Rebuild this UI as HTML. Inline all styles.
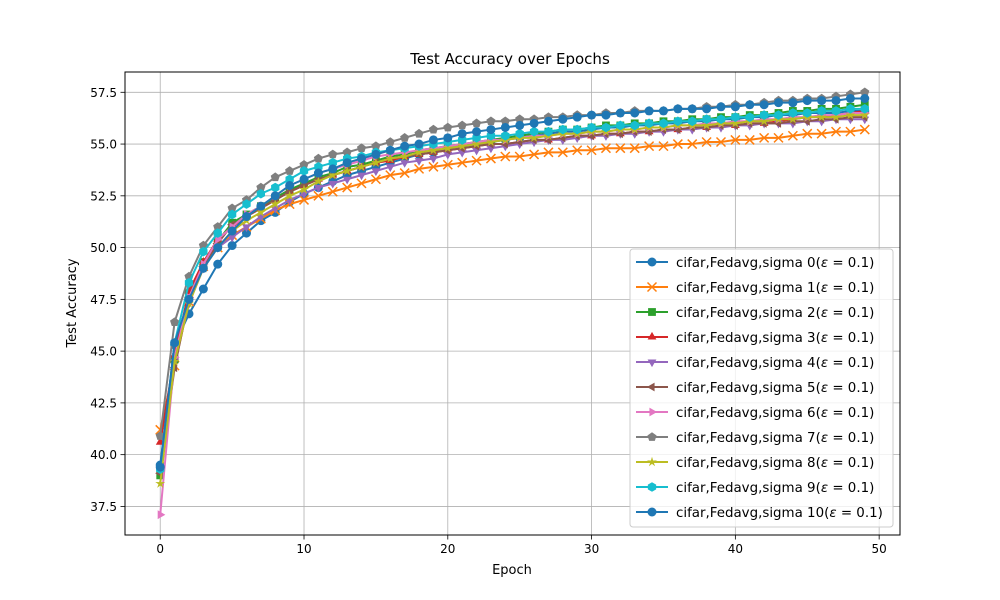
<!DOCTYPE html>
<html><head><meta charset="utf-8"><style>
html,body{margin:0;padding:0;background:#fff;}
svg{display:block;font-family:"DejaVu Sans","Liberation Sans",sans-serif;}
</style></head><body>
<svg id="chart" width="1000" height="600" xmlns="http://www.w3.org/2000/svg">
<rect width="1000" height="600" fill="#fff"/>
<g id="grid"></g>
<g id="series"></g>
<rect x="125" y="72" width="775" height="463" fill="none" stroke="#000" stroke-width="1"/>
<g id="ticks"></g>
<text x="510" y="64" text-anchor="middle" font-size="15">Test Accuracy over Epochs</text>
<text x="512" y="574" text-anchor="middle" font-size="13">Epoch</text>
<text transform="translate(76,303) rotate(-90)" text-anchor="middle" font-size="13">Test Accuracy</text>
<g id="legend"></g>
</svg>
<script>
const epochs = Array.from({length:50},(_,i)=>i);
const xTicks = [0,10,20,30,40,50];
const yTicks = [37.5,40.0,42.5,45.0,47.5,50.0,52.5,55.0,57.5];
const seriesNames = ["sigma 0","sigma 1","sigma 2","sigma 3","sigma 4","sigma 5","sigma 6","sigma 7","sigma 8","sigma 9","sigma 10"];
const s0 = [39.5,45.3,46.8,48.0,49.2,50.1,50.7,51.3,51.7,52.2,52.6,52.9,53.2,53.5,53.7,53.9,54.1,54.3,54.5,54.6,54.8,54.9,55.0,55.1,55.2,55.3,55.4,55.5,55.6,55.6,55.7,55.8,55.8,55.9,55.9,56.0,56.0,56.1,56.1,56.2,56.2,56.3,56.3,56.4,56.4,56.5,56.5,56.5,56.6,56.6];
const s1 = [41.2,44.3,47.4,49.1,50.0,50.6,51.0,51.4,51.8,52.1,52.3,52.5,52.7,52.9,53.1,53.3,53.5,53.6,53.8,53.9,54.0,54.1,54.2,54.3,54.4,54.4,54.5,54.6,54.6,54.7,54.7,54.8,54.8,54.8,54.9,54.9,55.0,55.0,55.1,55.1,55.2,55.2,55.3,55.3,55.4,55.5,55.5,55.6,55.6,55.7];
const s2 = [39.0,44.6,47.8,49.3,50.3,51.2,51.6,52.0,52.4,52.8,53.1,53.4,53.6,53.9,54.0,54.2,54.4,54.5,54.7,54.8,54.9,55.0,55.1,55.2,55.3,55.4,55.5,55.6,55.7,55.7,55.8,55.9,55.9,56.0,56.0,56.1,56.1,56.2,56.2,56.3,56.3,56.4,56.4,56.5,56.6,56.6,56.7,56.7,56.8,56.9];
const s3 = [40.6,44.8,47.9,49.3,50.4,51.0,51.5,51.9,52.3,52.7,53.0,53.3,53.5,53.7,53.9,54.1,54.2,54.4,54.5,54.6,54.7,54.8,54.9,55.0,55.0,55.1,55.2,55.2,55.3,55.4,55.4,55.5,55.5,55.6,55.6,55.7,55.7,55.8,55.8,55.9,55.9,56.0,56.0,56.1,56.2,56.3,56.3,56.4,56.5,56.6];
const s4 = [39.2,44.5,47.3,49.0,50.0,50.5,51.0,51.5,51.9,52.3,52.6,52.9,53.1,53.3,53.5,53.7,53.9,54.1,54.2,54.3,54.5,54.6,54.7,54.8,54.9,55.0,55.1,55.2,55.2,55.3,55.4,55.4,55.5,55.5,55.6,55.6,55.7,55.7,55.8,55.8,55.9,55.9,56.0,56.0,56.0,56.1,56.1,56.2,56.2,56.2];
const s5 = [39.1,44.2,47.5,49.1,50.2,51.1,51.5,51.9,52.3,52.7,53.0,53.3,53.5,53.7,53.9,54.1,54.3,54.4,54.5,54.6,54.7,54.8,54.9,55.0,55.0,55.1,55.2,55.2,55.3,55.4,55.4,55.5,55.5,55.6,55.6,55.7,55.7,55.8,55.8,55.9,55.9,56.0,56.0,56.0,56.1,56.1,56.2,56.2,56.3,56.3];
const s6 = [37.1,44.7,47.6,49.2,50.4,51.0,51.6,52.0,52.5,53.0,53.3,53.6,53.8,54.0,54.2,54.4,54.5,54.6,54.7,54.8,54.9,55.0,55.1,55.2,55.2,55.3,55.4,55.4,55.5,55.5,55.6,55.6,55.7,55.7,55.8,55.8,55.9,55.9,56.0,56.0,56.1,56.1,56.2,56.2,56.3,56.3,56.4,56.4,56.5,56.5];
const s7 = [40.9,46.4,48.6,50.1,51.0,51.9,52.3,52.9,53.4,53.7,54.0,54.3,54.5,54.6,54.8,54.9,55.1,55.3,55.5,55.7,55.8,55.9,56.0,56.1,56.1,56.2,56.2,56.3,56.3,56.4,56.4,56.5,56.5,56.6,56.6,56.6,56.7,56.7,56.8,56.8,56.9,56.9,57.0,57.1,57.1,57.2,57.2,57.3,57.4,57.5];
const s8 = [38.6,44.5,47.3,49.0,50.0,50.8,51.3,51.7,52.1,52.5,52.8,53.2,53.5,53.7,53.9,54.1,54.3,54.4,54.6,54.7,54.8,54.9,55.0,55.1,55.2,55.3,55.3,55.4,55.5,55.5,55.6,55.6,55.7,55.7,55.8,55.8,55.9,55.9,55.9,56.0,56.0,56.1,56.1,56.2,56.2,56.3,56.3,56.3,56.4,56.4];
const s9 = [39.3,45.4,48.3,49.8,50.7,51.6,52.1,52.6,52.9,53.3,53.7,53.9,54.1,54.3,54.4,54.6,54.7,54.8,54.9,55.0,55.1,55.2,55.3,55.4,55.4,55.5,55.6,55.6,55.7,55.7,55.8,55.8,55.9,55.9,56.0,56.0,56.1,56.1,56.2,56.2,56.3,56.3,56.4,56.4,56.5,56.5,56.6,56.6,56.7,56.7];
const s10 = [39.4,45.4,47.5,49.0,50.0,50.8,51.5,52.0,52.5,53.0,53.3,53.6,53.8,54.1,54.3,54.5,54.7,54.9,55.0,55.2,55.3,55.5,55.6,55.7,55.8,55.9,56.0,56.1,56.2,56.3,56.4,56.4,56.5,56.5,56.6,56.6,56.7,56.7,56.7,56.8,56.8,56.9,56.9,57.0,57.0,57.1,57.1,57.1,57.2,57.2];
const seriesValues = [s0,s1,s2,s3,s4,s5,s6,s7,s8,s9,s10];

const colors = ["#1f77b4","#ff7f0e","#2ca02c","#d62728","#9467bd","#8c564b","#e377c2","#7f7f7f","#bcbd22","#17becf","#1f77b4"];
const markers = ["o","x","s","^","v","<",">","p","*","h","o"];
const NS = "http://www.w3.org/2000/svg";
const X0=125,X1=900,Y0=72,Y1=535;
const xMin=-2.45,xMax=51.45,yMin=36.12,yMax=58.48;
const xs = v => X0+(v-xMin)/(xMax-xMin)*(X1-X0);
const ys = v => Y1-(v-yMin)/(yMax-yMin)*(Y1-Y0);
function el(tag, attrs, parent){const e=document.createElementNS(NS,tag);for(const k in attrs)e.setAttribute(k,attrs[k]);parent.appendChild(e);return e;}
function poly(n,r,rot){const p=[];for(let i=0;i<n;i++){const a=rot+i*2*Math.PI/n;p.push([r*Math.cos(a),r*Math.sin(a)]);}return p;}
function markerShape(m,cx,cy,c,parent){
  const r=4.5;let e;
  if(m==="o"){e=el("circle",{cx,cy,r,fill:c},parent);}
  else if(m==="x"){e=el("path",{d:`M${cx-r},${cy-r}L${cx+r},${cy+r}M${cx-r},${cy+r}L${cx+r},${cy-r}`,stroke:c,"stroke-width":1.5,fill:"none"},parent);}
  else if(m==="s"){e=el("rect",{x:cx-3.9,y:cy-3.9,width:7.8,height:7.8,fill:c},parent);}
  else {
    let pts;
    if(m==="^")pts=poly(3,r+0.6,-Math.PI/2);
    else if(m==="v")pts=poly(3,r+0.6,Math.PI/2);
    else if(m==="<")pts=poly(3,r+0.6,Math.PI);
    else if(m===">")pts=poly(3,r+0.6,0);
    else if(m==="p")pts=poly(5,r+0.3,-Math.PI/2);
    else if(m==="h")pts=poly(6,r+0.3,-Math.PI/2);
    else if(m==="*"){pts=[];for(let i=0;i<10;i++){const a=-Math.PI/2+i*Math.PI/5;const rr=i%2?r*0.42:r+0.7;pts.push([rr*Math.cos(a),rr*Math.sin(a)]);}}
    e=el("polygon",{points:pts.map(p=>(cx+p[0]).toFixed(2)+","+(cy+p[1]).toFixed(2)).join(" "),fill:c},parent);
  }
  return e;
}
const grid=document.getElementById("grid"), ticks=document.getElementById("ticks");
xTicks.forEach(t=>{
  const x=xs(t);
  const g=el("line",{x1:x,x2:x,y1:Y0,y2:Y1,stroke:"#b0b0b0","stroke-width":0.8},grid);
  
  
  el("line",{x1:x,x2:x,y1:Y1,y2:Y1+4.5,stroke:"#000","stroke-width":0.8},ticks);
  const tx=el("text",{x:x,y:Y1+18,"text-anchor":"middle","font-size":12},ticks);
  tx.textContent=t;
  
  
});
yTicks.forEach(t=>{
  const y=ys(t);
  const g=el("line",{x1:X0,x2:X1,y1:y,y2:y,stroke:"#b0b0b0","stroke-width":0.8},grid);
  
  
  el("line",{x1:X0-4.5,x2:X0,y1:y,y2:y,stroke:"#000","stroke-width":0.8},ticks);
  const tx=el("text",{x:X0-8,y:y+4.5,"text-anchor":"end","font-size":12},ticks);
  tx.textContent=t.toFixed(1);
  
  
});
const sg=document.getElementById("series");
seriesValues.forEach((vals,si)=>{
  const g=el("g",{},sg);
  
  
  const d=vals.map((v,i)=>(i?"L":"M")+xs(epochs[i]).toFixed(2)+","+ys(v).toFixed(2)).join("");
  const ln=el("path",{d,fill:"none",stroke:colors[si],"stroke-width":2},g);
  
  
  vals.forEach((v,i)=>{
    const m=markerShape(markers[si],xs(epochs[i]),ys(v),colors[si],g);
    
    
  });
});
const lg=document.getElementById("legend");
const box=el("rect",{x:630,y:249,width:263,height:278,rx:3,fill:"#fff","fill-opacity":0.8,stroke:"#ccc","stroke-width":1},lg);


seriesNames.forEach((n,si)=>{
  const y=262+si*25;
  const g=el("g",{},lg);
  
  
  el("line",{x1:636,x2:668,y1:y,y2:y,stroke:colors[si],"stroke-width":2},g);
  markerShape(markers[si],652,y,colors[si],g);
  const t=el("text",{x:676,y:y+5,"font-size":13.4},g);
  t.innerHTML="cifar,Fedavg,"+n+"(<tspan font-style=\"italic\">ε</tspan> = 0.1)";
});
</script>
</body></html>
